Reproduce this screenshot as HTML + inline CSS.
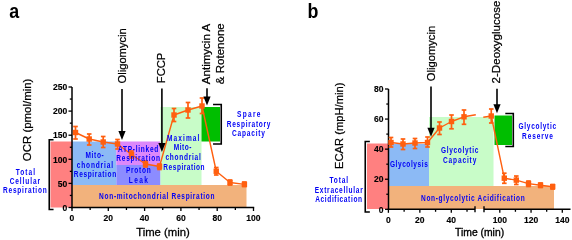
<!DOCTYPE html>
<html><head><meta charset="utf-8"><style>
html,body{margin:0;padding:0;background:#fff;}
svg{display:block;will-change:transform;filter:blur(0.35px);}
text{font-family:"Liberation Sans", sans-serif;}
</style></head><body>
<svg width="572" height="240" viewBox="0 0 572 240">
<rect width="572" height="240" fill="#fff"/>
<rect x="50.5" y="141.5" width="21.50" height="66.00" fill="#FF8080"/>
<rect x="72" y="141.5" width="44.30" height="43.50" fill="#8CBAF5"/>
<rect x="116.3" y="141.5" width="44.20" height="23.50" fill="#DC88FA"/>
<rect x="116.3" y="165" width="44.20" height="20.00" fill="#8C8CFF"/>
<rect x="160.5" y="107" width="41.00" height="78.00" fill="#C8FCC8"/>
<rect x="201.5" y="107" width="18.50" height="34.50" fill="#00BE00"/>
<rect x="72" y="185" width="174.50" height="22.50" fill="#F2B27C"/>
<line x1="72" y1="87" x2="72" y2="208.25" stroke="#000" stroke-width="1.5" stroke-linecap="butt"/>
<line x1="71.25" y1="207.5" x2="254.2" y2="207.5" stroke="#000" stroke-width="1.5" stroke-linecap="butt"/>
<line x1="68.5" y1="207.5" x2="72" y2="207.5" stroke="#000" stroke-width="1.3" stroke-linecap="butt"/>
<text transform="translate(67.30,210.70) scale(0.93,1)" font-size="9.2" font-weight="bold" fill="#000" stroke="#000" stroke-width="0.15" text-anchor="end">0</text>
<line x1="69.8" y1="195.45" x2="72" y2="195.45" stroke="#000" stroke-width="1.3" stroke-linecap="butt"/>
<line x1="68.5" y1="183.4" x2="72" y2="183.4" stroke="#000" stroke-width="1.3" stroke-linecap="butt"/>
<text transform="translate(67.30,186.60) scale(0.93,1)" font-size="9.2" font-weight="bold" fill="#000" stroke="#000" stroke-width="0.15" text-anchor="end">50</text>
<line x1="69.8" y1="171.35" x2="72" y2="171.35" stroke="#000" stroke-width="1.3" stroke-linecap="butt"/>
<line x1="68.5" y1="159.3" x2="72" y2="159.3" stroke="#000" stroke-width="1.3" stroke-linecap="butt"/>
<text transform="translate(67.30,162.50) scale(0.93,1)" font-size="9.2" font-weight="bold" fill="#000" stroke="#000" stroke-width="0.15" text-anchor="end">100</text>
<line x1="69.8" y1="147.25" x2="72" y2="147.25" stroke="#000" stroke-width="1.3" stroke-linecap="butt"/>
<line x1="68.5" y1="135.2" x2="72" y2="135.2" stroke="#000" stroke-width="1.3" stroke-linecap="butt"/>
<text transform="translate(67.30,138.40) scale(0.93,1)" font-size="9.2" font-weight="bold" fill="#000" stroke="#000" stroke-width="0.15" text-anchor="end">150</text>
<line x1="69.8" y1="123.15" x2="72" y2="123.15" stroke="#000" stroke-width="1.3" stroke-linecap="butt"/>
<line x1="68.5" y1="111.10000000000001" x2="72" y2="111.10000000000001" stroke="#000" stroke-width="1.3" stroke-linecap="butt"/>
<text transform="translate(67.30,114.30) scale(0.93,1)" font-size="9.2" font-weight="bold" fill="#000" stroke="#000" stroke-width="0.15" text-anchor="end">200</text>
<line x1="69.8" y1="99.05" x2="72" y2="99.05" stroke="#000" stroke-width="1.3" stroke-linecap="butt"/>
<line x1="68.5" y1="87.0" x2="72" y2="87.0" stroke="#000" stroke-width="1.3" stroke-linecap="butt"/>
<text transform="translate(67.30,90.20) scale(0.93,1)" font-size="9.2" font-weight="bold" fill="#000" stroke="#000" stroke-width="0.15" text-anchor="end">250</text>
<line x1="72.0" y1="207.5" x2="72.0" y2="211.0" stroke="#000" stroke-width="1.3" stroke-linecap="butt"/>
<text transform="translate(72.00,221.20) scale(0.93,1)" font-size="9.2" font-weight="bold" fill="#000" stroke="#000" stroke-width="0.15" text-anchor="middle">0</text>
<line x1="90.15" y1="207.5" x2="90.15" y2="210.0" stroke="#000" stroke-width="1.3" stroke-linecap="butt"/>
<line x1="108.3" y1="207.5" x2="108.3" y2="211.0" stroke="#000" stroke-width="1.3" stroke-linecap="butt"/>
<text transform="translate(108.30,221.20) scale(0.93,1)" font-size="9.2" font-weight="bold" fill="#000" stroke="#000" stroke-width="0.15" text-anchor="middle">20</text>
<line x1="126.44999999999999" y1="207.5" x2="126.44999999999999" y2="210.0" stroke="#000" stroke-width="1.3" stroke-linecap="butt"/>
<line x1="144.6" y1="207.5" x2="144.6" y2="211.0" stroke="#000" stroke-width="1.3" stroke-linecap="butt"/>
<text transform="translate(144.60,221.20) scale(0.93,1)" font-size="9.2" font-weight="bold" fill="#000" stroke="#000" stroke-width="0.15" text-anchor="middle">40</text>
<line x1="162.75" y1="207.5" x2="162.75" y2="210.0" stroke="#000" stroke-width="1.3" stroke-linecap="butt"/>
<line x1="180.89999999999998" y1="207.5" x2="180.89999999999998" y2="211.0" stroke="#000" stroke-width="1.3" stroke-linecap="butt"/>
<text transform="translate(180.90,221.20) scale(0.93,1)" font-size="9.2" font-weight="bold" fill="#000" stroke="#000" stroke-width="0.15" text-anchor="middle">60</text>
<line x1="199.05" y1="207.5" x2="199.05" y2="210.0" stroke="#000" stroke-width="1.3" stroke-linecap="butt"/>
<line x1="217.2" y1="207.5" x2="217.2" y2="211.0" stroke="#000" stroke-width="1.3" stroke-linecap="butt"/>
<text transform="translate(217.20,221.20) scale(0.93,1)" font-size="9.2" font-weight="bold" fill="#000" stroke="#000" stroke-width="0.15" text-anchor="middle">80</text>
<line x1="235.35" y1="207.5" x2="235.35" y2="210.0" stroke="#000" stroke-width="1.3" stroke-linecap="butt"/>
<line x1="253.5" y1="207.5" x2="253.5" y2="211.0" stroke="#000" stroke-width="1.3" stroke-linecap="butt"/>
<text transform="translate(253.50,221.20) scale(0.93,1)" font-size="9.2" font-weight="bold" fill="#000" stroke="#000" stroke-width="0.15" text-anchor="middle">100</text>
<polyline points="75.5,132.5 89.2,139 103.2,142 117.5,144 131.5,154.5 145.5,164 159.5,166.5 174,115 188,110 202,106 216.25,171.25 230,182.5 244.4,184.4" fill="none" stroke="#FF5F0F" stroke-width="1.4" stroke-linejoin="round"/>
<line x1="75.5" y1="126.5" x2="75.5" y2="139" stroke="#FF5F0F" stroke-width="1.7" stroke-linecap="butt"/>
<line x1="73.2" y1="126.5" x2="77.8" y2="126.5" stroke="#FF5F0F" stroke-width="1.7" stroke-linecap="butt"/>
<line x1="73.2" y1="139" x2="77.8" y2="139" stroke="#FF5F0F" stroke-width="1.7" stroke-linecap="butt"/>
<rect x="72.8" y="129.8" width="5.40" height="5.40" fill="#FF5F0F"/>
<line x1="89.2" y1="134" x2="89.2" y2="145" stroke="#FF5F0F" stroke-width="1.7" stroke-linecap="butt"/>
<line x1="86.9" y1="134" x2="91.5" y2="134" stroke="#FF5F0F" stroke-width="1.7" stroke-linecap="butt"/>
<line x1="86.9" y1="145" x2="91.5" y2="145" stroke="#FF5F0F" stroke-width="1.7" stroke-linecap="butt"/>
<rect x="86.5" y="136.3" width="5.40" height="5.40" fill="#FF5F0F"/>
<line x1="103.2" y1="136.5" x2="103.2" y2="147.5" stroke="#FF5F0F" stroke-width="1.7" stroke-linecap="butt"/>
<line x1="100.9" y1="136.5" x2="105.5" y2="136.5" stroke="#FF5F0F" stroke-width="1.7" stroke-linecap="butt"/>
<line x1="100.9" y1="147.5" x2="105.5" y2="147.5" stroke="#FF5F0F" stroke-width="1.7" stroke-linecap="butt"/>
<rect x="100.5" y="139.3" width="5.40" height="5.40" fill="#FF5F0F"/>
<line x1="117.5" y1="139.5" x2="117.5" y2="149" stroke="#FF5F0F" stroke-width="1.7" stroke-linecap="butt"/>
<line x1="115.2" y1="139.5" x2="119.8" y2="139.5" stroke="#FF5F0F" stroke-width="1.7" stroke-linecap="butt"/>
<line x1="115.2" y1="149" x2="119.8" y2="149" stroke="#FF5F0F" stroke-width="1.7" stroke-linecap="butt"/>
<rect x="114.8" y="141.3" width="5.40" height="5.40" fill="#FF5F0F"/>
<line x1="131.5" y1="151" x2="131.5" y2="158" stroke="#FF5F0F" stroke-width="1.7" stroke-linecap="butt"/>
<line x1="129.2" y1="151" x2="133.8" y2="151" stroke="#FF5F0F" stroke-width="1.7" stroke-linecap="butt"/>
<line x1="129.2" y1="158" x2="133.8" y2="158" stroke="#FF5F0F" stroke-width="1.7" stroke-linecap="butt"/>
<rect x="128.8" y="151.8" width="5.40" height="5.40" fill="#FF5F0F"/>
<line x1="145.5" y1="161" x2="145.5" y2="167" stroke="#FF5F0F" stroke-width="1.7" stroke-linecap="butt"/>
<line x1="143.2" y1="161" x2="147.8" y2="161" stroke="#FF5F0F" stroke-width="1.7" stroke-linecap="butt"/>
<line x1="143.2" y1="167" x2="147.8" y2="167" stroke="#FF5F0F" stroke-width="1.7" stroke-linecap="butt"/>
<rect x="142.8" y="161.3" width="5.40" height="5.40" fill="#FF5F0F"/>
<line x1="159.5" y1="164" x2="159.5" y2="169.5" stroke="#FF5F0F" stroke-width="1.7" stroke-linecap="butt"/>
<line x1="157.2" y1="164" x2="161.8" y2="164" stroke="#FF5F0F" stroke-width="1.7" stroke-linecap="butt"/>
<line x1="157.2" y1="169.5" x2="161.8" y2="169.5" stroke="#FF5F0F" stroke-width="1.7" stroke-linecap="butt"/>
<rect x="156.8" y="163.8" width="5.40" height="5.40" fill="#FF5F0F"/>
<line x1="174" y1="108.5" x2="174" y2="121.5" stroke="#FF5F0F" stroke-width="1.7" stroke-linecap="butt"/>
<line x1="171.7" y1="108.5" x2="176.3" y2="108.5" stroke="#FF5F0F" stroke-width="1.7" stroke-linecap="butt"/>
<line x1="171.7" y1="121.5" x2="176.3" y2="121.5" stroke="#FF5F0F" stroke-width="1.7" stroke-linecap="butt"/>
<rect x="171.3" y="112.3" width="5.40" height="5.40" fill="#FF5F0F"/>
<line x1="188" y1="102.5" x2="188" y2="118" stroke="#FF5F0F" stroke-width="1.7" stroke-linecap="butt"/>
<line x1="185.7" y1="102.5" x2="190.3" y2="102.5" stroke="#FF5F0F" stroke-width="1.7" stroke-linecap="butt"/>
<line x1="185.7" y1="118" x2="190.3" y2="118" stroke="#FF5F0F" stroke-width="1.7" stroke-linecap="butt"/>
<rect x="185.3" y="107.3" width="5.40" height="5.40" fill="#FF5F0F"/>
<line x1="202" y1="98" x2="202" y2="113.5" stroke="#FF5F0F" stroke-width="1.7" stroke-linecap="butt"/>
<line x1="199.7" y1="98" x2="204.3" y2="98" stroke="#FF5F0F" stroke-width="1.7" stroke-linecap="butt"/>
<line x1="199.7" y1="113.5" x2="204.3" y2="113.5" stroke="#FF5F0F" stroke-width="1.7" stroke-linecap="butt"/>
<rect x="199.3" y="103.3" width="5.40" height="5.40" fill="#FF5F0F"/>
<line x1="216.25" y1="167.5" x2="216.25" y2="175" stroke="#FF5F0F" stroke-width="1.7" stroke-linecap="butt"/>
<line x1="213.95" y1="167.5" x2="218.55" y2="167.5" stroke="#FF5F0F" stroke-width="1.7" stroke-linecap="butt"/>
<line x1="213.95" y1="175" x2="218.55" y2="175" stroke="#FF5F0F" stroke-width="1.7" stroke-linecap="butt"/>
<rect x="213.55" y="168.55" width="5.40" height="5.40" fill="#FF5F0F"/>
<line x1="230" y1="180" x2="230" y2="185" stroke="#FF5F0F" stroke-width="1.7" stroke-linecap="butt"/>
<line x1="227.7" y1="180" x2="232.3" y2="180" stroke="#FF5F0F" stroke-width="1.7" stroke-linecap="butt"/>
<line x1="227.7" y1="185" x2="232.3" y2="185" stroke="#FF5F0F" stroke-width="1.7" stroke-linecap="butt"/>
<rect x="227.3" y="179.8" width="5.40" height="5.40" fill="#FF5F0F"/>
<line x1="244.4" y1="182" x2="244.4" y2="186.5" stroke="#FF5F0F" stroke-width="1.7" stroke-linecap="butt"/>
<line x1="242.1" y1="182" x2="246.70000000000002" y2="182" stroke="#FF5F0F" stroke-width="1.7" stroke-linecap="butt"/>
<line x1="242.1" y1="186.5" x2="246.70000000000002" y2="186.5" stroke="#FF5F0F" stroke-width="1.7" stroke-linecap="butt"/>
<rect x="241.70000000000002" y="181.70000000000002" width="5.40" height="5.40" fill="#FF5F0F"/>
<polyline points="53.55,139.75 49.25,139.75 49.25,209.5 53.55,209.5" fill="none" stroke="#000" stroke-width="1.6"/>
<polyline points="213.05,104.5 221.25,104.5 221.25,144 213.05,144" fill="none" stroke="#000" stroke-width="1.6"/>
<line x1="122" y1="88.9" x2="122" y2="131.9" stroke="#000" stroke-width="1.6" stroke-linecap="butt"/>
<polygon points="118.4,130.9 125.6,130.9 122,139.9" fill="#000"/>
<line x1="161.9" y1="88.6" x2="161.9" y2="144" stroke="#000" stroke-width="1.6" stroke-linecap="butt"/>
<polygon points="158.3,143 165.5,143 161.9,152" fill="#000"/>
<line x1="207" y1="88.3" x2="207" y2="97.6" stroke="#000" stroke-width="1.6" stroke-linecap="butt"/>
<polygon points="203.4,96.6 210.6,96.6 207,105.6" fill="#000"/>
<text transform="translate(125.6,83.5) rotate(-90)" font-size="11.2" font-weight="normal" fill="#000" text-anchor="start" stroke="#000" stroke-width="0.24">Oligomycin</text>
<text transform="translate(165.2,83.2) rotate(-90)" font-size="11.2" font-weight="normal" fill="#000" text-anchor="start" stroke="#000" stroke-width="0.24">FCCP</text>
<text transform="translate(209.9,84.2) rotate(-90)" font-size="11.55" font-weight="normal" fill="#000" text-anchor="start" stroke="#000" stroke-width="0.24">Antimycin A</text>
<text transform="translate(223.9,84.2) rotate(-90)" font-size="11.55" font-weight="normal" fill="#000" text-anchor="start" stroke="#000" stroke-width="0.24">&amp; Rotenone</text>
<text transform="translate(30.6,119.9) rotate(-90)" font-size="11.45" font-weight="normal" fill="#000" text-anchor="middle" stroke="#000" stroke-width="0.24">OCR (pmol/min)</text>
<text transform="translate(9.2,18.2) scale(0.88,1)" font-size="20.3" font-weight="bold" fill="#000">a</text>
<text transform="translate(15.80,174.70) scale(0.78,1)" font-size="8.4" font-weight="bold" fill="#0000F5" textLength="24.62" lengthAdjust="spacing" stroke="#0000F5" stroke-width="0">Total</text>
<text transform="translate(9.70,184.20) scale(0.78,1)" font-size="8.4" font-weight="bold" fill="#0000F5" textLength="38.85" lengthAdjust="spacing" stroke="#0000F5" stroke-width="0">Cellular</text>
<text transform="translate(3.00,193.30) scale(0.78,1)" font-size="8.4" font-weight="bold" fill="#0000F5" textLength="56.03" lengthAdjust="spacing" stroke="#0000F5" stroke-width="0">Respiration</text>
<text transform="translate(85.50,158.00) scale(0.78,1)" font-size="8.4" font-weight="bold" fill="#0000F5" textLength="23.46" lengthAdjust="spacing" stroke="#0000F5" stroke-width="0">Mito-</text>
<text transform="translate(76.70,167.50) scale(0.78,1)" font-size="8.4" font-weight="bold" fill="#0000F5" textLength="46.54" lengthAdjust="spacing" stroke="#0000F5" stroke-width="0">chondrial</text>
<text transform="translate(73.80,177.20) scale(0.78,1)" font-size="8.4" font-weight="bold" fill="#0000F5" textLength="54.36" lengthAdjust="spacing" stroke="#0000F5" stroke-width="0">Respiration</text>
<text transform="translate(118.00,151.50) scale(0.78,1)" font-size="8.4" font-weight="bold" fill="#0000F5" textLength="51.67" lengthAdjust="spacing" stroke="#0000F5" stroke-width="0">ATP-linked</text>
<text transform="translate(116.25,160.80) scale(0.78,1)" font-size="8.4" font-weight="bold" fill="#0000F5" textLength="56.09" lengthAdjust="spacing" stroke="#0000F5" stroke-width="0">Respiration</text>
<text transform="translate(125.90,173.20) scale(0.78,1)" font-size="8.4" font-weight="bold" fill="#0000F5" textLength="31.79" lengthAdjust="spacing" stroke="#0000F5" stroke-width="0">Proton</text>
<text transform="translate(128.80,182.60) scale(0.78,1)" font-size="8.4" font-weight="bold" fill="#0000F5" textLength="24.62" lengthAdjust="spacing" stroke="#0000F5" stroke-width="0">Leak</text>
<text transform="translate(167.00,140.60) scale(0.78,1)" font-size="8.4" font-weight="bold" fill="#0000F5" textLength="41.54" lengthAdjust="spacing" stroke="#0000F5" stroke-width="0">Maximal</text>
<text transform="translate(173.75,150.40) scale(0.78,1)" font-size="8.4" font-weight="bold" fill="#0000F5" textLength="22.76" lengthAdjust="spacing" stroke="#0000F5" stroke-width="0">Mito-</text>
<text transform="translate(165.40,160.00) scale(0.78,1)" font-size="8.4" font-weight="bold" fill="#0000F5" textLength="45.38" lengthAdjust="spacing" stroke="#0000F5" stroke-width="0">chondrial</text>
<text transform="translate(163.30,169.80) scale(0.78,1)" font-size="8.4" font-weight="bold" fill="#0000F5" textLength="52.95" lengthAdjust="spacing" stroke="#0000F5" stroke-width="0">Respiration</text>
<text transform="translate(237.00,117.00) scale(0.78,1)" font-size="8.4" font-weight="bold" fill="#0000F5" textLength="30.13" lengthAdjust="spacing" stroke="#0000F5" stroke-width="0">Spare</text>
<text transform="translate(226.70,126.70) scale(0.78,1)" font-size="8.4" font-weight="bold" fill="#0000F5" textLength="56.15" lengthAdjust="spacing" stroke="#0000F5" stroke-width="0">Respiratory</text>
<text transform="translate(232.00,136.00) scale(0.78,1)" font-size="8.4" font-weight="bold" fill="#0000F5" textLength="42.31" lengthAdjust="spacing" stroke="#0000F5" stroke-width="0">Capacity</text>
<text transform="translate(99.10,199.00) scale(0.78,1)" font-size="8.4" font-weight="bold" fill="#0000F5" textLength="147.95" lengthAdjust="spacing" stroke="#0000F5" stroke-width="0">Non-mitochondrial Respiration</text>
<text x="163.0" y="235.8" font-size="11.3" font-weight="normal" fill="#000" text-anchor="middle" stroke="#000" stroke-width="0.3">Time (min)</text>
<rect x="367" y="143.5" width="21.50" height="65.50" fill="#FF8080"/>
<rect x="388.5" y="144" width="40.50" height="42.00" fill="#8CBAF5"/>
<rect x="429" y="117" width="64.50" height="69.00" fill="#C8FCC8"/>
<rect x="494.5" y="115.5" width="17.50" height="29.50" fill="#00BE00"/>
<rect x="388.5" y="186" width="165.50" height="23.00" fill="#F2B27C"/>
<line x1="388.5" y1="89" x2="388.5" y2="210.05" stroke="#000" stroke-width="1.5" stroke-linecap="butt"/>
<line x1="385.0" y1="209.3" x2="388.5" y2="209.3" stroke="#000" stroke-width="1.3" stroke-linecap="butt"/>
<text transform="translate(383.40,212.50) scale(0.93,1)" font-size="9.2" font-weight="bold" fill="#000" stroke="#000" stroke-width="0.15" text-anchor="end">0</text>
<line x1="386.3" y1="194.26250000000002" x2="388.5" y2="194.26250000000002" stroke="#000" stroke-width="1.3" stroke-linecap="butt"/>
<line x1="385.0" y1="179.22500000000002" x2="388.5" y2="179.22500000000002" stroke="#000" stroke-width="1.3" stroke-linecap="butt"/>
<text transform="translate(383.40,182.43) scale(0.93,1)" font-size="9.2" font-weight="bold" fill="#000" stroke="#000" stroke-width="0.15" text-anchor="end">20</text>
<line x1="386.3" y1="164.1875" x2="388.5" y2="164.1875" stroke="#000" stroke-width="1.3" stroke-linecap="butt"/>
<line x1="385.0" y1="149.15" x2="388.5" y2="149.15" stroke="#000" stroke-width="1.3" stroke-linecap="butt"/>
<text transform="translate(383.40,152.35) scale(0.93,1)" font-size="9.2" font-weight="bold" fill="#000" stroke="#000" stroke-width="0.15" text-anchor="end">40</text>
<line x1="386.3" y1="134.1125" x2="388.5" y2="134.1125" stroke="#000" stroke-width="1.3" stroke-linecap="butt"/>
<line x1="385.0" y1="119.075" x2="388.5" y2="119.075" stroke="#000" stroke-width="1.3" stroke-linecap="butt"/>
<text transform="translate(383.40,122.28) scale(0.93,1)" font-size="9.2" font-weight="bold" fill="#000" stroke="#000" stroke-width="0.15" text-anchor="end">60</text>
<line x1="386.3" y1="104.0375" x2="388.5" y2="104.0375" stroke="#000" stroke-width="1.3" stroke-linecap="butt"/>
<line x1="385.0" y1="89.0" x2="388.5" y2="89.0" stroke="#000" stroke-width="1.3" stroke-linecap="butt"/>
<text transform="translate(383.40,92.20) scale(0.93,1)" font-size="9.2" font-weight="bold" fill="#000" stroke="#000" stroke-width="0.15" text-anchor="end">80</text>
<line x1="387.75" y1="209.3" x2="475" y2="209.3" stroke="#000" stroke-width="1.5" stroke-linecap="butt"/>
<line x1="388.4" y1="209.3" x2="388.4" y2="212.8" stroke="#000" stroke-width="1.3" stroke-linecap="butt"/>
<text transform="translate(388.40,222.60) scale(0.93,1)" font-size="9.2" font-weight="bold" fill="#000" stroke="#000" stroke-width="0.15" text-anchor="middle">0</text>
<line x1="404.125" y1="209.3" x2="404.125" y2="211.8" stroke="#000" stroke-width="1.3" stroke-linecap="butt"/>
<line x1="419.85" y1="209.3" x2="419.85" y2="212.8" stroke="#000" stroke-width="1.3" stroke-linecap="butt"/>
<text transform="translate(419.85,222.60) scale(0.93,1)" font-size="9.2" font-weight="bold" fill="#000" stroke="#000" stroke-width="0.15" text-anchor="middle">20</text>
<line x1="435.575" y1="209.3" x2="435.575" y2="211.8" stroke="#000" stroke-width="1.3" stroke-linecap="butt"/>
<line x1="451.3" y1="209.3" x2="451.3" y2="212.8" stroke="#000" stroke-width="1.3" stroke-linecap="butt"/>
<text transform="translate(451.30,222.60) scale(0.93,1)" font-size="9.2" font-weight="bold" fill="#000" stroke="#000" stroke-width="0.15" text-anchor="middle">40</text>
<line x1="467.02500000000003" y1="209.3" x2="467.02500000000003" y2="211.8" stroke="#000" stroke-width="1.3" stroke-linecap="butt"/>
<line x1="475" y1="206.3" x2="475" y2="212.3" stroke="#000" stroke-width="1.4" stroke-linecap="butt"/>
<line x1="484" y1="206.3" x2="484" y2="212.3" stroke="#000" stroke-width="1.4" stroke-linecap="butt"/>
<line x1="484" y1="209.3" x2="570.5" y2="209.3" stroke="#000" stroke-width="1.5" stroke-linecap="butt"/>
<line x1="499.8" y1="209.3" x2="499.8" y2="212.8" stroke="#000" stroke-width="1.3" stroke-linecap="butt"/>
<text transform="translate(499.80,222.60) scale(0.93,1)" font-size="9.2" font-weight="bold" fill="#000" stroke="#000" stroke-width="0.15" text-anchor="middle">100</text>
<line x1="515.425" y1="209.3" x2="515.425" y2="211.8" stroke="#000" stroke-width="1.3" stroke-linecap="butt"/>
<line x1="531.05" y1="209.3" x2="531.05" y2="212.8" stroke="#000" stroke-width="1.3" stroke-linecap="butt"/>
<text transform="translate(531.05,222.60) scale(0.93,1)" font-size="9.2" font-weight="bold" fill="#000" stroke="#000" stroke-width="0.15" text-anchor="middle">120</text>
<line x1="546.675" y1="209.3" x2="546.675" y2="211.8" stroke="#000" stroke-width="1.3" stroke-linecap="butt"/>
<line x1="562.3" y1="209.3" x2="562.3" y2="212.8" stroke="#000" stroke-width="1.3" stroke-linecap="butt"/>
<text transform="translate(562.30,222.60) scale(0.93,1)" font-size="9.2" font-weight="bold" fill="#000" stroke="#000" stroke-width="0.15" text-anchor="middle">140</text>
<polyline points="391,142.5 403,144 415,143 427.5,142.5 439.5,128 451.5,121.5 464,116.8 475.8,114.7" fill="none" stroke="#FF5F0F" stroke-width="1.4" stroke-linejoin="round"/>
<polyline points="483.3,117.3 491.25,116 504.3,178.2 516.3,180.1 528.5,183.6 540.5,185.2 552.7,186.7" fill="none" stroke="#FF5F0F" stroke-width="1.4" stroke-linejoin="round"/>
<line x1="391" y1="137.5" x2="391" y2="147" stroke="#FF5F0F" stroke-width="1.7" stroke-linecap="butt"/>
<line x1="388.7" y1="137.5" x2="393.3" y2="137.5" stroke="#FF5F0F" stroke-width="1.7" stroke-linecap="butt"/>
<line x1="388.7" y1="147" x2="393.3" y2="147" stroke="#FF5F0F" stroke-width="1.7" stroke-linecap="butt"/>
<rect x="388.3" y="139.8" width="5.40" height="5.40" fill="#FF5F0F"/>
<line x1="403" y1="139" x2="403" y2="149.5" stroke="#FF5F0F" stroke-width="1.7" stroke-linecap="butt"/>
<line x1="400.7" y1="139" x2="405.3" y2="139" stroke="#FF5F0F" stroke-width="1.7" stroke-linecap="butt"/>
<line x1="400.7" y1="149.5" x2="405.3" y2="149.5" stroke="#FF5F0F" stroke-width="1.7" stroke-linecap="butt"/>
<rect x="400.3" y="141.3" width="5.40" height="5.40" fill="#FF5F0F"/>
<line x1="415" y1="138.5" x2="415" y2="148.5" stroke="#FF5F0F" stroke-width="1.7" stroke-linecap="butt"/>
<line x1="412.7" y1="138.5" x2="417.3" y2="138.5" stroke="#FF5F0F" stroke-width="1.7" stroke-linecap="butt"/>
<line x1="412.7" y1="148.5" x2="417.3" y2="148.5" stroke="#FF5F0F" stroke-width="1.7" stroke-linecap="butt"/>
<rect x="412.3" y="140.3" width="5.40" height="5.40" fill="#FF5F0F"/>
<line x1="427.5" y1="137" x2="427.5" y2="147" stroke="#FF5F0F" stroke-width="1.7" stroke-linecap="butt"/>
<line x1="425.2" y1="137" x2="429.8" y2="137" stroke="#FF5F0F" stroke-width="1.7" stroke-linecap="butt"/>
<line x1="425.2" y1="147" x2="429.8" y2="147" stroke="#FF5F0F" stroke-width="1.7" stroke-linecap="butt"/>
<rect x="424.8" y="139.8" width="5.40" height="5.40" fill="#FF5F0F"/>
<line x1="439.5" y1="122" x2="439.5" y2="134.5" stroke="#FF5F0F" stroke-width="1.7" stroke-linecap="butt"/>
<line x1="437.2" y1="122" x2="441.8" y2="122" stroke="#FF5F0F" stroke-width="1.7" stroke-linecap="butt"/>
<line x1="437.2" y1="134.5" x2="441.8" y2="134.5" stroke="#FF5F0F" stroke-width="1.7" stroke-linecap="butt"/>
<rect x="436.8" y="125.3" width="5.40" height="5.40" fill="#FF5F0F"/>
<line x1="451.5" y1="115" x2="451.5" y2="128.8" stroke="#FF5F0F" stroke-width="1.7" stroke-linecap="butt"/>
<line x1="449.2" y1="115" x2="453.8" y2="115" stroke="#FF5F0F" stroke-width="1.7" stroke-linecap="butt"/>
<line x1="449.2" y1="128.8" x2="453.8" y2="128.8" stroke="#FF5F0F" stroke-width="1.7" stroke-linecap="butt"/>
<rect x="448.8" y="118.8" width="5.40" height="5.40" fill="#FF5F0F"/>
<line x1="464" y1="110" x2="464" y2="124.3" stroke="#FF5F0F" stroke-width="1.7" stroke-linecap="butt"/>
<line x1="461.7" y1="110" x2="466.3" y2="110" stroke="#FF5F0F" stroke-width="1.7" stroke-linecap="butt"/>
<line x1="461.7" y1="124.3" x2="466.3" y2="124.3" stroke="#FF5F0F" stroke-width="1.7" stroke-linecap="butt"/>
<rect x="461.3" y="114.1" width="5.40" height="5.40" fill="#FF5F0F"/>
<line x1="491.25" y1="109" x2="491.25" y2="123" stroke="#FF5F0F" stroke-width="1.7" stroke-linecap="butt"/>
<line x1="488.95" y1="109" x2="493.55" y2="109" stroke="#FF5F0F" stroke-width="1.7" stroke-linecap="butt"/>
<line x1="488.95" y1="123" x2="493.55" y2="123" stroke="#FF5F0F" stroke-width="1.7" stroke-linecap="butt"/>
<rect x="488.55" y="113.3" width="5.40" height="5.40" fill="#FF5F0F"/>
<line x1="504.3" y1="173.2" x2="504.3" y2="183.3" stroke="#FF5F0F" stroke-width="1.7" stroke-linecap="butt"/>
<line x1="502.0" y1="173.2" x2="506.6" y2="173.2" stroke="#FF5F0F" stroke-width="1.7" stroke-linecap="butt"/>
<line x1="502.0" y1="183.3" x2="506.6" y2="183.3" stroke="#FF5F0F" stroke-width="1.7" stroke-linecap="butt"/>
<rect x="501.6" y="175.5" width="5.40" height="5.40" fill="#FF5F0F"/>
<line x1="516.3" y1="176" x2="516.3" y2="184.5" stroke="#FF5F0F" stroke-width="1.7" stroke-linecap="butt"/>
<line x1="514.0" y1="176" x2="518.5999999999999" y2="176" stroke="#FF5F0F" stroke-width="1.7" stroke-linecap="butt"/>
<line x1="514.0" y1="184.5" x2="518.5999999999999" y2="184.5" stroke="#FF5F0F" stroke-width="1.7" stroke-linecap="butt"/>
<rect x="513.5999999999999" y="177.4" width="5.40" height="5.40" fill="#FF5F0F"/>
<line x1="528.5" y1="181" x2="528.5" y2="186.5" stroke="#FF5F0F" stroke-width="1.7" stroke-linecap="butt"/>
<line x1="526.2" y1="181" x2="530.8" y2="181" stroke="#FF5F0F" stroke-width="1.7" stroke-linecap="butt"/>
<line x1="526.2" y1="186.5" x2="530.8" y2="186.5" stroke="#FF5F0F" stroke-width="1.7" stroke-linecap="butt"/>
<rect x="525.8" y="180.9" width="5.40" height="5.40" fill="#FF5F0F"/>
<line x1="540.5" y1="183" x2="540.5" y2="187.5" stroke="#FF5F0F" stroke-width="1.7" stroke-linecap="butt"/>
<line x1="538.2" y1="183" x2="542.8" y2="183" stroke="#FF5F0F" stroke-width="1.7" stroke-linecap="butt"/>
<line x1="538.2" y1="187.5" x2="542.8" y2="187.5" stroke="#FF5F0F" stroke-width="1.7" stroke-linecap="butt"/>
<rect x="537.8" y="182.5" width="5.40" height="5.40" fill="#FF5F0F"/>
<line x1="552.7" y1="184.5" x2="552.7" y2="189" stroke="#FF5F0F" stroke-width="1.7" stroke-linecap="butt"/>
<line x1="550.4000000000001" y1="184.5" x2="555.0" y2="184.5" stroke="#FF5F0F" stroke-width="1.7" stroke-linecap="butt"/>
<line x1="550.4000000000001" y1="189" x2="555.0" y2="189" stroke="#FF5F0F" stroke-width="1.7" stroke-linecap="butt"/>
<rect x="550.0" y="184.0" width="5.40" height="5.40" fill="#FF5F0F"/>
<polyline points="369.85,141.5 365.25,141.5 365.25,212.0 369.85,212.0" fill="none" stroke="#000" stroke-width="1.6"/>
<polyline points="505.29999999999995,113.5 513.3,113.5 513.3,146.5 505.29999999999995,146.5" fill="none" stroke="#000" stroke-width="1.6"/>
<line x1="431" y1="86.6" x2="431" y2="128.7" stroke="#000" stroke-width="1.6" stroke-linecap="butt"/>
<polygon points="427.4,127.69999999999999 434.6,127.69999999999999 431,136.7" fill="#000"/>
<line x1="497" y1="88.7" x2="497" y2="105.3" stroke="#000" stroke-width="1.6" stroke-linecap="butt"/>
<polygon points="493.4,104.3 500.6,104.3 497,113.3" fill="#000"/>
<text transform="translate(434.8,81.2) rotate(-90)" font-size="11.2" font-weight="normal" fill="#000" text-anchor="start" stroke="#000" stroke-width="0.24">Oligomycin</text>
<text transform="translate(500.4,83.4) rotate(-90)" font-size="11.56" font-weight="normal" fill="#000" text-anchor="start" stroke="#000" stroke-width="0.24">2-Deoxyglucose</text>
<text transform="translate(343.4,125.75) rotate(-90)" font-size="11.2" font-weight="normal" fill="#000" text-anchor="middle" stroke="#000" stroke-width="0.24">ECAR (mpH/min)</text>
<text transform="translate(307.6,18.2) scale(0.88,1)" font-size="20.3" font-weight="bold" fill="#000">b</text>
<text transform="translate(329.40,182.90) scale(0.78,1)" font-size="8.4" font-weight="bold" fill="#0000F5" textLength="23.97" lengthAdjust="spacing" stroke="#0000F5" stroke-width="0">Total</text>
<text transform="translate(314.75,192.75) scale(0.78,1)" font-size="8.4" font-weight="bold" fill="#0000F5" textLength="61.54" lengthAdjust="spacing" stroke="#0000F5" stroke-width="0">Extracellular</text>
<text transform="translate(315.20,202.10) scale(0.78,1)" font-size="8.4" font-weight="bold" fill="#0000F5" textLength="60.00" lengthAdjust="spacing" stroke="#0000F5" stroke-width="0">Acidification</text>
<text transform="translate(389.90,167.30) scale(0.78,1)" font-size="8.4" font-weight="bold" fill="#0000F5" textLength="48.59" lengthAdjust="spacing" stroke="#0000F5" stroke-width="0">Glycolysis</text>
<text transform="translate(440.90,153.40) scale(0.78,1)" font-size="8.4" font-weight="bold" fill="#0000F5" textLength="47.95" lengthAdjust="spacing" stroke="#0000F5" stroke-width="0">Glycolytic</text>
<text transform="translate(443.00,162.60) scale(0.78,1)" font-size="8.4" font-weight="bold" fill="#0000F5" textLength="42.69" lengthAdjust="spacing" stroke="#0000F5" stroke-width="0">Capacity</text>
<text transform="translate(518.50,129.20) scale(0.78,1)" font-size="8.4" font-weight="bold" fill="#0000F5" textLength="48.33" lengthAdjust="spacing" stroke="#0000F5" stroke-width="0">Glycolytic</text>
<text transform="translate(522.00,138.60) scale(0.78,1)" font-size="8.4" font-weight="bold" fill="#0000F5" textLength="39.74" lengthAdjust="spacing" stroke="#0000F5" stroke-width="0">Reserve</text>
<text transform="translate(421.10,200.70) scale(0.78,1)" font-size="8.4" font-weight="bold" fill="#0000F5" textLength="132.82" lengthAdjust="spacing" stroke="#0000F5" stroke-width="0">Non-glycolytic Acidification</text>
<text x="479.6" y="236.1" font-size="10.35" font-weight="normal" fill="#000" text-anchor="middle" stroke="#000" stroke-width="0.35">Time (min)</text>
</svg>
</body></html>
